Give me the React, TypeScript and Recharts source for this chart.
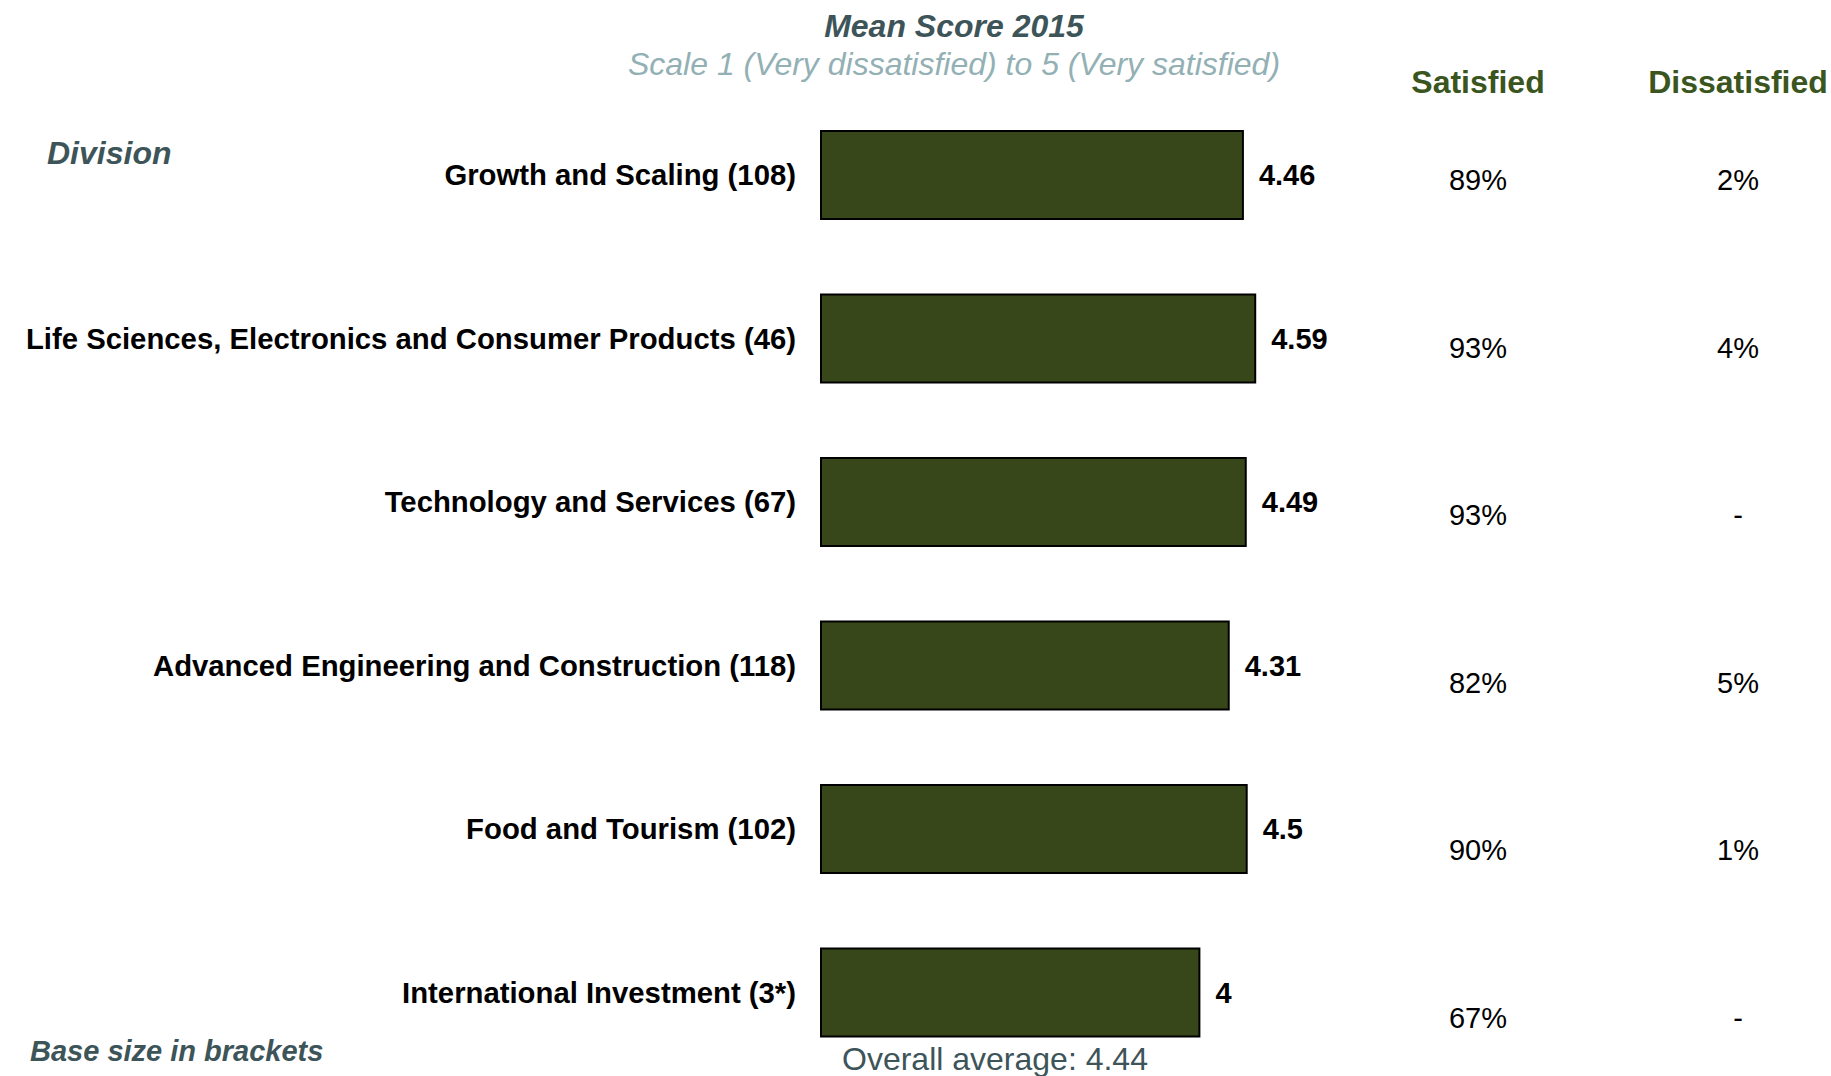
import { Bar, BarChart, Customized, LabelList, XAxis, YAxis } from "recharts";

const divisions = [
  "Growth and Scaling (108)",
  "Life Sciences, Electronics and Consumer Products (46)",
  "Technology and Services (67)",
  "Advanced Engineering and Construction (118)",
  "Food and Tourism (102)",
  "International Investment (3*)",
];
const meanScores = [4.46, 4.59, 4.49, 4.31, 4.5, 4];
const satisfiedShare = ["89%", "93%", "93%", "82%", "90%", "67%"];
const dissatisfiedShare = ["2%", "4%", "-", "5%", "1%", "-"];
const overallAverage = 4.44;

const rows = divisions.map((name, i) => ({
  name,
  score: meanScores[i],
  satisfied: satisfiedShare[i],
  dissatisfied: dissatisfiedShare[i],
}));

const FONT = '"Liberation Sans", Arial, sans-serif';
const SLATE = "#3d5459";
const OLIVE = "#3a5520";
const BAR = "#37471a";

const SAT_X = 1478;
const DIS_X = 1738;

function CategoryTick({ x, y, payload }: any) {
  return (
    <text
      x={x}
      y={y}
      textAnchor="end"
      dominantBaseline="central"
      fontFamily={FONT}
      fontSize={29.3}
      fontWeight={700}
      fill="#000"
    >
      {payload.value}
    </text>
  );
}

// percent columns sit a little lower than the bar centres, drifting down the rows
function shareLabel(colX: number) {
  return (props: any) => {
    const { y, height, value, index } = props;
    const cy = Number(y) + Number(height) / 2 + 5 + index * 4;
    return (
      <text
        x={colX}
        y={cy}
        textAnchor="middle"
        dominantBaseline="central"
        fontFamily={FONT}
        fontSize={29}
        fill="#000"
      >
        {value}
      </text>
    );
  };
}

function Decorations() {
  return (
    <g fontFamily={FONT}>
      <text x={954} y={26} textAnchor="middle" dominantBaseline="central" fontSize={32} fontWeight={700} fontStyle="italic" fill={SLATE}>
        Mean Score 2015
      </text>
      <text x={954} y={64} textAnchor="middle" dominantBaseline="central" fontSize={32} fontStyle="italic" fill="#93b0b4">
        Scale 1 (Very dissatisfied) to 5 (Very satisfied)
      </text>
      <text x={SAT_X} y={82} textAnchor="middle" dominantBaseline="central" fontSize={32} fontWeight={700} fill={OLIVE}>
        Satisfied
      </text>
      <text x={DIS_X} y={82} textAnchor="middle" dominantBaseline="central" fontSize={32} fontWeight={700} fill={OLIVE}>
        Dissatisfied
      </text>
      <text x={47} y={153} dominantBaseline="central" fontSize={32} fontWeight={700} fontStyle="italic" fill={SLATE}>
        Division
      </text>
      <text x={30} y={1051} dominantBaseline="central" fontSize={29} fontWeight={700} fontStyle="italic" fill={SLATE}>
        Base size in brackets
      </text>
      <text x={842} y={1059} dominantBaseline="central" fontSize={32} fill={SLATE}>
        {`Overall average: ${overallAverage}`}
      </text>
    </g>
  );
}

export default function App() {
  return (
    <div style={{ position: "absolute", left: 0, top: 0, width: 1831, height: 1076, background: "#fff" }}>
      <BarChart
        width={1831}
        height={1076}
        data={rows}
        layout="vertical"
        margin={{ top: 93, right: 537, bottom: 2, left: 0 }}
      >
        <XAxis type="number" domain={[0, 5]} hide />
        <YAxis
          type="category"
          dataKey="name"
          width={821}
          axisLine={false}
          tickLine={false}
          tickSize={0}
          tickMargin={25}
          tick={<CategoryTick />}
        />
        <Bar dataKey="score" fill={BAR} stroke="#000" strokeWidth={2} barSize={88} isAnimationActive={false}>
          <LabelList
            dataKey="score"
            position="right"
            offset={16}
            fill="#000"
            fontSize={29}
            fontWeight={700}
            fontFamily={FONT}
          />
          <LabelList dataKey="satisfied" content={shareLabel(SAT_X)} />
          <LabelList dataKey="dissatisfied" content={shareLabel(DIS_X)} />
        </Bar>
        <Customized component={Decorations} />
      </BarChart>
    </div>
  );
}
